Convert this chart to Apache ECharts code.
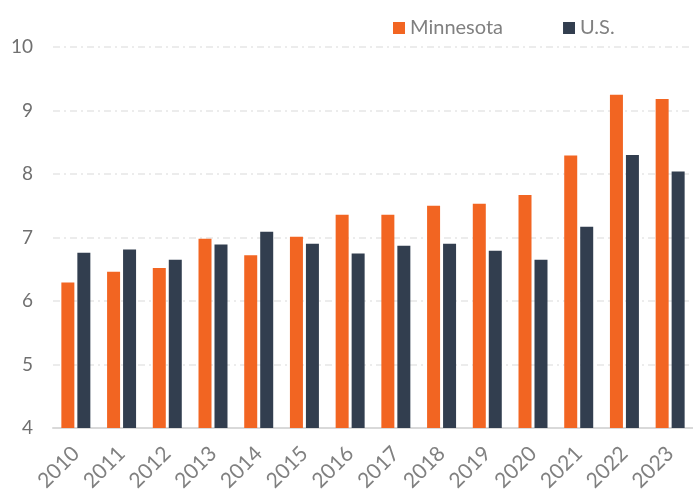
<!DOCTYPE html>
<html>
<head>
<meta charset="utf-8">
<script src="https://cdn.jsdelivr.net/npm/echarts@6/dist/echarts.min.js"></script>
<style>
  html, body { margin: 0; padding: 0; background: #fff; }
</style>
</head>
<body>
<div id="main" style="width: 693px;height:494px;"></div>
<script type="text/javascript">
    // data
    var years = ['2010', '2011', '2012', '2013', '2014', '2015', '2016',
                 '2017', '2018', '2019', '2020', '2021', '2022', '2023'];
    var minnesota = [6.29, 6.46, 6.52, 6.98, 6.72, 7.01, 7.36, 7.36, 7.50, 7.53, 7.67, 8.29, 9.25, 9.18];
    var us = [6.76, 6.81, 6.65, 6.89, 7.09, 6.90, 6.75, 6.87, 6.90, 6.79, 6.65, 7.17, 8.30, 8.04];

    var font = 'Lato, "Open Sans", sans-serif';
    var myChart = echarts.init(document.getElementById('main'));

    var option = {
        animation: false,
        textStyle: { fontFamily: font },
        legend: {
            top: 13,
            left: 388,
            itemWidth: 12,
            itemHeight: 12,
            itemGap: 60,
            icon: 'rect',
            textStyle: { fontSize: 20, color: '#808080', fontFamily: font },
            data: ['Minnesota', 'U.S.']
        },
        grid: {
            left: 53,
            top: 47,
            width: 651,
            height: 382
        },
        xAxis: {
            type: 'category',
            data: years,
            axisTick: { show: false },
            axisLine: { lineStyle: { color: '#d9d9d9', width: 2 } },
            axisLabel: {
                rotate: 45,
                margin: 22,
                fontSize: 21,
                color: '#808080',
                fontFamily: font
            }
        },
        yAxis: {
            type: 'value',
            min: 4,
            max: 10,
            interval: 1,
            axisLine: { show: false },
            axisTick: { show: false },
            axisLabel: {
                margin: 20,
                fontSize: 19,
                color: '#707070',
                fontFamily: font
            },
            splitLine: {
                lineStyle: { color: '#e6e6e6', width: 1.5, type: [7, 4, 2, 4] }
            }
        },
        series: [
            {
                name: 'Minnesota',
                type: 'bar',
                data: minnesota,
                barWidth: 13,
                barGap: '23%',
                itemStyle: { color: '#f26522' }
            },
            {
                name: 'U.S.',
                type: 'bar',
                data: us,
                barWidth: 13,
                itemStyle: { color: '#323e4f' }
            }
        ]
    };

    myChart.setOption(option);
</script>
</body>
</html>
